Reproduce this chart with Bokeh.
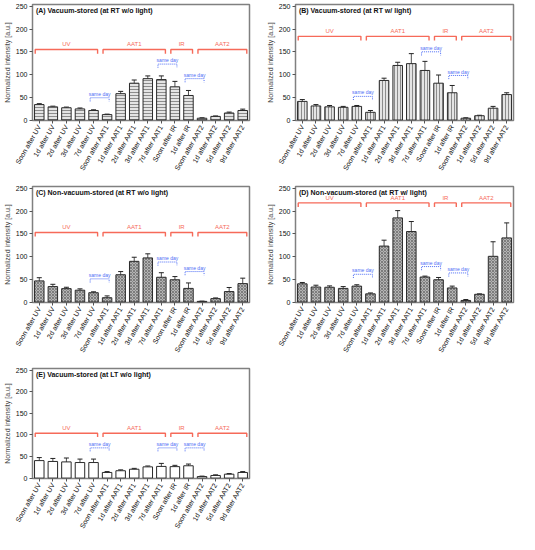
import numpy as np
from bokeh.plotting import figure
from bokeh.models import ColumnDataSource, Whisker, Range1d, Label, FixedTicker
from bokeh.layouts import gridplot
from bokeh.embed import file_html
from bokeh.resources import INLINE
from bokeh.core.properties import value

FONT = "Liberation Sans"
RED = "#f66a59"
BLUE = "#4d6df5"

categories = [
    "Soon after UV", "1d after UV", "2d after UV", "3d after UV", "7d after UV",
    "Soon after AAT1", "1d after AAT1", "2d after AAT1", "3d after AAT1", "7d after AAT1",
    "Soon after IR", "1d after IR",
    "Soon after AAT2", "1d after AAT2", "5d after AAT2", "9d after AAT2",
]

group_names = ["UV", "AAT1", "IR", "AAT2"]
group_first = [0, 5, 10, 12]
group_last = [4, 9, 11, 15]
same_day_first = [4, 9, 11]

vals_a = [34, 29, 27, 24.5, 21, 12, 58, 81, 91, 89, 73, 54, 4, 8, 15.5, 21]
err_a = [2, 1.5, 1.5, 2, 1.5, 1, 5, 7, 6, 8, 12, 11, 1, 1, 2, 3]
vals_b = [41, 31, 29, 28, 30, 17, 87, 120, 124, 109, 81, 60, 4, 9.5, 26, 56]
err_b = [4, 3, 3, 2, 2, 4, 5, 7, 22, 20, 18, 16, 1, 1, 4, 4]
vals_c = [46.5, 34, 29.5, 26, 20.5, 9.5, 60, 89.5, 97, 54.5, 49, 30, 1.5, 7.5, 23, 40.5]
err_c = [7, 5, 3, 3, 2, 4, 7, 9, 9, 10, 7, 12, 0.5, 1.5, 9, 12]
vals_d = [40, 33, 32.5, 30, 35, 18, 123, 185, 155, 55, 49, 31, 3.5, 17, 100.5, 141]
err_d = [3, 4, 3, 4, 3, 2, 13, 16, 22, 2, 5, 4, 2, 1, 32, 33]
vals_e = [40.5, 38.5, 37.5, 36, 36, 13, 17, 20.5, 26, 27, 26.5, 28.5, 3.5, 6, 9, 13]
err_e = [7, 7, 9, 8, 8, 2, 2, 2, 2, 7, 3, 4, 1, 1.5, 1.5, 2]

# heights of the annotation brackets (data units)
group_y = {"A": 155, "B": 184, "C": 153, "D": 218, "E": 104}
same_day_y = {
    "A": [49, 123, 91],
    "B": [52, 150, 98],
    "C": [51, 88, 67],
    "D": [61, 78, 64],
    "E": [70, 70, 70],
}

titles = {
    "A": "(A) Vacuum-stored (at RT w/o light)",
    "B": "(B) Vacuum-stored (at RT w/ light)",
    "C": "(C) Non-vacuum-stored (at RT w/o light)",
    "D": "(D) Non-vacuum-stored (at RT w/ light)",
    "E": "(E) Vacuum-stored (at LT w/o light)",
}


def make_panel(key, vals, errs, fill, hatch, left, right, bottom):
    p = figure(
        x_range=categories, y_range=Range1d(-1, 254),
        width=left + 224 + right, height=4 + 116 + bottom,
        min_border_left=left, min_border_right=right,
        min_border_top=4, min_border_bottom=bottom,
        output_backend="svg", toolbar_location=None,
    )
    p.outline_line_color = "#808080"
    p.outline_line_width = 1.5
    p.xgrid.visible = False
    p.ygrid.visible = False

    src = ColumnDataSource(dict(
        cat=categories, val=vals,
        lo=[v - e for v, e in zip(vals, errs)],
        hi=[v + e for v, e in zip(vals, errs)],
    ))
    p.vbar(x="cat", top="val", bottom=0, width=0.7, source=src,
           fill_color=fill, line_color="#2a2a2a", line_width=1,
           hatch_pattern=hatch, hatch_color="#666666", hatch_scale=3, hatch_weight=0.7)
    w = Whisker(source=src, base="cat", upper="hi", lower="lo",
                line_color="#222222", line_width=0.8)
    w.upper_head.size = 5
    w.lower_head.size = 5
    w.upper_head.line_color = "#222222"
    w.lower_head.line_color = "#222222"
    p.add_layout(w)

    # treatment group brackets
    gy = group_y[key]
    p.multi_line(
        xs=[[f + 0.2, f + 0.2, l + 0.8, l + 0.8] for f, l in zip(group_first, group_last)],
        ys=[[gy - 9, gy, gy, gy - 9]] * len(group_names),
        line_color=RED, line_width=1.4,
    )
    p.text(x=[(f + l + 1) / 2 for f, l in zip(group_first, group_last)],
           y=[gy + 5] * len(group_names), text=group_names,
           text_align="center", text_baseline="bottom",
           text_font=value(FONT), text_font_size="6px", text_color=RED)

    # "same day" brackets
    sy = same_day_y[key]
    p.multi_line(
        xs=[[i + 0.25, i + 0.25, i + 1.65, i + 1.65] for i in same_day_first],
        ys=[[y - 8, y, y, y - 8] for y in sy],
        line_color=BLUE, line_width=1, line_dash="1 1",
    )
    p.text(x=[i + 0.95 for i in same_day_first], y=[y + 2 for y in sy],
           text=["same day"] * len(sy),
           text_align="center", text_baseline="bottom",
           text_font=value(FONT), text_font_size="5px", text_color=BLUE)

    p.add_layout(Label(x=0.25, y=240, text=titles[key], text_font=FONT,
                       text_font_style="bold", text_font_size="7px",
                       text_baseline="middle", text_color="#111111"))

    p.yaxis.ticker = FixedTicker(ticks=[0, 50, 100, 150, 200, 250])
    p.yaxis.axis_label = "Normalized intensity [a.u.]"
    p.yaxis.axis_label_text_font = FONT
    p.yaxis.axis_label_text_font_size = "7px"
    p.yaxis.axis_label_text_font_style = "normal"
    p.yaxis.axis_label_standoff = 2
    for ax in (p.xaxis, p.yaxis):
        ax.axis_line_color = None
        ax.major_tick_out = 3
        ax.major_tick_in = 0
        ax.major_tick_line_color = "#555555"
        ax.minor_tick_line_color = None
        ax.major_label_text_font = FONT
        ax.major_label_text_font_size = "7px"
        ax.major_label_text_color = "#111111"
        ax.major_label_standoff = 2
    p.xaxis.major_label_orientation = np.pi / 3
    return p


pA = make_panel("A", vals_a, err_a, "#e4e4e4", "horizontal_line", 25, 14, 62)
pB = make_panel("B", vals_b, err_b, "#e4e4e4", "vertical_line", 26, 6, 62)
pC = make_panel("C", vals_c, err_c, "#b4b4b4", "diagonal_cross", 25, 14, 62)
pD = make_panel("D", vals_d, err_d, "#b4b4b4", "diagonal_cross", 26, 6, 62)
pE = make_panel("E", vals_e, err_e, "#ffffff", None, 25, 14, 50)

grid = gridplot([[pA, pB], [pC, pD], [pE, None]], toolbar_location=None)

open("out.html", "w").write(file_html(grid, INLINE))
